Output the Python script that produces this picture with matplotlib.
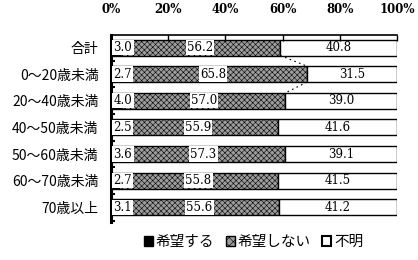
import numpy as np
import matplotlib.pyplot as plt
from matplotlib.patches import Patch

plt.rcParams['font.family'] = ['Noto Sans CJK JP', 'DejaVu Sans']
plt.rcParams['hatch.linewidth'] = 0.4

categories = ["合計", "0～20歳未満", "20～40歳未満", "40～50歳未満",
              "50～60歳未満", "60～70歳未満", "70歳以上"]
kibou = [3.0, 2.7, 4.0, 2.5, 3.6, 2.7, 3.1]
kibou_shinai = [56.2, 65.8, 57.0, 55.9, 57.3, 55.8, 55.6]
fumei = [40.8, 31.5, 39.0, 41.6, 39.1, 41.5, 41.2]
series_names = ["希望する", "希望しない", "不明"]
xticks = [0, 20, 40, 60, 80, 100]

NUM_FONT = "DejaVu Serif"
GRAY = "#9c9c9c"

fig = plt.figure(figsize=(4.18, 2.60), dpi=100)
ax = fig.add_axes([0.2656, 0.146, 0.6842, 0.7194])

y = np.arange(len(categories))
h = 0.6
k = np.array(kibou)
ks = np.array(kibou_shinai)
f = np.array(fumei)

ax.barh(y, k, height=h, color="black", edgecolor="black", linewidth=1.0)
ax.barh(y, ks, left=k, height=h, color=GRAY, edgecolor="black",
        linewidth=1.0, hatch="xxxxxx")
ax.barh(y, f, left=k + ks, height=h, color="white", edgecolor="black", linewidth=1.0)

box = dict(boxstyle="square,pad=0.1", fc="white", ec="none")
for i in range(len(categories)):
    ax.text(0.9, y[i], f"{k[i]:.1f}", ha="left", va="center", fontsize=8.5,
            family=NUM_FONT, bbox=box)
    ax.text(k[i] + ks[i] / 2, y[i], f"{ks[i]:.1f}", ha="center", va="center",
            fontsize=8.5, family=NUM_FONT, bbox=box)
    ax.text(k[i] + ks[i] + f[i] / 2, y[i], f"{f[i]:.1f}", ha="center", va="center",
            fontsize=8.5, family=NUM_FONT)

# dotted series lines between the first bars
ends = k + ks
for i in range(2):
    ax.plot([ends[i], ends[i + 1]], [y[i] + h / 2, y[i + 1] - h / 2],
            color="black", linestyle=(0, (1.5, 3)), linewidth=0.8)

ax.set_xlim(0, 100)
ax.set_ylim(6.55, -0.47)

ax.xaxis.tick_top()
ax.set_xticks(xticks)
ax.set_xticklabels([f"{t}%" for t in xticks], family=NUM_FONT, fontsize=8.5,
                   fontweight="bold")
ax.tick_params(axis="x", direction="in", length=4, width=1.0, pad=14)

ax.set_yticks(y)
ax.set_yticklabels(categories, fontsize=10)
ax.set_yticks(np.arange(len(categories)) + 0.5, minor=True)
ax.tick_params(axis="y", which="major", length=0, pad=9)
ax.tick_params(axis="y", which="minor", direction="in", length=3, width=1.5)

for s in ["right", "bottom"]:
    ax.spines[s].set_visible(False)
ax.spines["left"].set_linewidth(2.2)
ax.spines["top"].set_linewidth(1.2)

handles = [
    Patch(facecolor="black", edgecolor="black", label=series_names[0]),
    Patch(facecolor=GRAY, edgecolor="black", hatch="xxxx", label=series_names[1]),
    Patch(facecolor="white", edgecolor="black", linewidth=1.5, label=series_names[2]),
]
fig.legend(handles=handles, loc="center", bbox_to_anchor=(0.607, 0.069), ncol=3,
           frameon=False, fontsize=10.5, handlelength=0.6, handleheight=0.6,
           handletextpad=0.2, columnspacing=0.8, borderpad=0)

fig.savefig("out.png", dpi=100)
